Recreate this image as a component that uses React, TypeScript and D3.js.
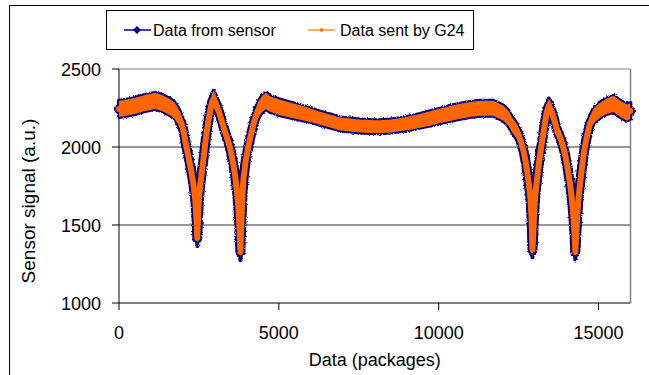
import * as d3 from "d3";

// packet index / signal centre / half-width of the noisy band
const packets = [
  0, 188, 501, 814, 1127, 1346, 1596, 1722, 1847, 1941, 2019, 2097, 2175, 2254, 2332, 2388, 2426, 2448,
  2470, 2498, 2542, 2592, 2639, 2686, 2739, 2801, 2864, 2911, 2958,
  3036, 3130, 3224, 3318, 3412, 3474, 3553, 3631, 3693, 3740, 3772, 3797,
  3819, 3844, 3866, 3897, 3959, 4038, 4132, 4241, 4351, 4476, 4601, 4726,
  5039, 5352, 5665, 5978, 6291, 6604, 6917, 7230, 7543, 7856, 8169, 8482, 8795, 9108, 9421, 9734, 10047,
  10360, 10673, 10986, 11299, 11706, 12019,
  12176, 12301, 12458, 12568, 12662, 12740, 12802, 12865, 12902, 12921, 12933,
  12958, 12983, 13021, 13074, 13130, 13193, 13256, 13318, 13381, 13443,
  13522, 13616, 13709, 13834, 13944, 14022, 14101, 14163, 14210, 14251, 14273,
  14304, 14336, 14376, 14429, 14492, 14555, 14633, 14727, 14846, 15055, 15274, 15472, 15681, 15891, 15994,
];

const signal = [
  2244, 2250, 2263, 2282, 2295, 2282, 2256, 2237, 2199, 2160, 2103, 2013, 1936, 1853, 1756, 1660, 1532, 1417,
  1532, 1660, 1756, 1840, 1917, 2000, 2090, 2173, 2244, 2288, 2308,
  2276, 2224, 2160, 2096, 2038, 1994, 1917, 1820, 1712, 1596, 1468, 1327,
  1468, 1596, 1712, 1801, 1904, 1994, 2083, 2173, 2237, 2276, 2295, 2276,
  2253, 2237, 2221, 2205, 2184, 2167, 2147, 2141, 2135, 2131, 2130, 2135, 2143, 2154, 2168, 2183, 2200,
  2215, 2229, 2240, 2248, 2248, 2218,
  2186, 2141, 2096, 2038, 1968, 1885, 1788, 1686, 1564, 1436, 1340,
  1436, 1564, 1686, 1788, 1885, 1981, 2064, 2147, 2224, 2263,
  2237, 2173, 2103, 2045, 1962, 1878, 1776, 1673, 1564, 1436, 1327,
  1436, 1564, 1673, 1776, 1885, 1981, 2064, 2147, 2199, 2237, 2263, 2276, 2244, 2221, 2231,
];

const spread = [
  52, 52, 52, 52, 52, 52, 52, 52, 52, 52, 52, 52, 52, 52, 52, 52, 52, 52,
  52, 52, 52, 52, 52, 52, 52, 52, 52, 52, 52,
  52, 52, 52, 52, 52, 52, 52, 52, 52, 52, 52, 52,
  52, 52, 52, 52, 52, 52, 52, 52, 52, 52, 52, 50,
  50, 48, 46, 44, 42, 42, 42, 42, 42, 42, 42, 42, 42, 44, 44, 46, 46, 48,
  48, 48, 48, 48, 48, 48,
  48, 48, 48, 48, 48, 48, 48, 48, 48, 48, 48,
  48, 48, 48, 48, 48, 48, 48, 48, 48, 48,
  48, 48, 48, 48, 48, 48, 48, 48, 48, 48, 48,
  48, 48, 48, 48, 48, 48, 48, 48, 48, 50, 52, 52, 52, 50, 48,
];

const xTicks = [0, 5000, 10000, 15000];
const yTicks = [1000, 1500, 2000, 2500];
const gridValues = [1500, 2000];

const NAVY = "#000080";
const ORANGE = "#FF6600";
const FONT = "'Liberation Sans', Arial, sans-serif";

export default function App() {
  const x = d3.scaleLinear().domain([0, 16000]).range([119, 630.5]);
  const y = d3.scaleLinear().domain([1000, 2500]).range([303, 69]);

  const pts = packets.map((p, i) => ({ p, v: signal[i], s: spread[i] }));
  type P = (typeof pts)[number];

  const band = d3
    .area<P>()
    .x((d) => x(d.p))
    .y0((d) => y(d.v - d.s))
    .y1((d) => y(d.v + d.s))(pts)!;
  const centre = d3
    .line<P>()
    .x((d) => x(d.p))
    .y((d) => y(d.v))(pts)!;

  const [x0, x1] = x.range();
  const [yb, yt] = y.range();

  return (
    <svg
      width={649}
      height={375}
      style={{ position: "absolute", left: 0, top: 0, background: "#fff" }}
      fontFamily={FONT}
    >
      <defs>
        {/* roughen the band edges like the dense marker cloud in the original */}
        <filter id="rough" x="-5%" y="-5%" width="110%" height="110%">
          <feTurbulence type="fractalNoise" baseFrequency="0.9" numOctaves={2} seed={3} result="n" />
          <feDisplacementMap in="SourceGraphic" in2="n" scale={3} xChannelSelector="R" yChannelSelector="G" />
        </filter>
      </defs>

      {/* outer chart frame */}
      <rect x={9.5} y={5.5} width={700} height={400} fill="#fff" stroke="#000" strokeWidth={1} />

      {/* gridlines + plot frame */}
      {gridValues.map((g) => (
        <line key={g} x1={x0} x2={x1} y1={y(g)} y2={y(g)} stroke="#333" strokeWidth={1} />
      ))}
      <line x1={x0} x2={x1} y1={yt} y2={yt} stroke="#808080" strokeWidth={1} />
      <line x1={x1} x2={x1} y1={yt} y2={yb} stroke="#808080" strokeWidth={1.5} />

      {/* axes */}
      <line x1={x0} x2={x0} y1={yt} y2={yb} stroke="#000" />
      <line x1={x0} x2={x1} y1={yb} y2={yb} stroke="#000" />
      {yTicks.map((t) => (
        <g key={t}>
          <line x1={x0 - 7} x2={x0} y1={y(t)} y2={y(t)} stroke="#000" />
          <text x={101} y={y(t) + 6.5} textAnchor="end" fontSize={18}>
            {t}
          </text>
        </g>
      ))}
      {xTicks.map((t) => (
        <g key={t}>
          <line x1={x(t)} x2={x(t)} y1={yb} y2={yb + 7} stroke="#000" />
          <text x={x(t)} y={339} textAnchor="middle" fontSize={18}>
            {t}
          </text>
        </g>
      ))}
      <text x={(x0 + x1) / 2} y={366} textAnchor="middle" fontSize={18}>
        Data (packages)
      </text>
      <text transform="translate(35,201) rotate(-90)" textAnchor="middle" fontSize={19}>
        Sensor signal (a.u.)
      </text>

      {/* series: sensor data (navy) under the G24 data (orange) */}
      <g filter="url(#rough)">
        <path d={band} fill={NAVY} stroke={NAVY} strokeWidth={4} strokeLinejoin="round" />
        <path d={centre} fill="none" stroke={NAVY} strokeWidth={10} strokeLinejoin="round" strokeLinecap="round" />
      </g>
      <path d={band} fill={ORANGE} />
      <path d={centre} fill="none" stroke={ORANGE} strokeWidth={6} strokeLinejoin="round" strokeLinecap="round" />

      {/* legend */}
      <rect x={106.5} y={10.5} width={367} height={39} fill="#fff" stroke="#000" />
      <line x1={124} x2={151} y1={30} y2={30} stroke={NAVY} strokeWidth={1.5} />
      <path d="M137,26 L141,30 L137,34 L133,30 Z" fill={NAVY} />
      <text x={153} y={35.5} fontSize={16}>
        Data from sensor
      </text>
      <line x1={308} x2={335} y1={30} y2={30} stroke="#FF9A2E" strokeWidth={1.5} />
      <rect x={320} y={28.5} width={3} height={3} fill={ORANGE} />
      <text x={340} y={35.5} fontSize={16}>
        Data sent by G24
      </text>
    </svg>
  );
}
